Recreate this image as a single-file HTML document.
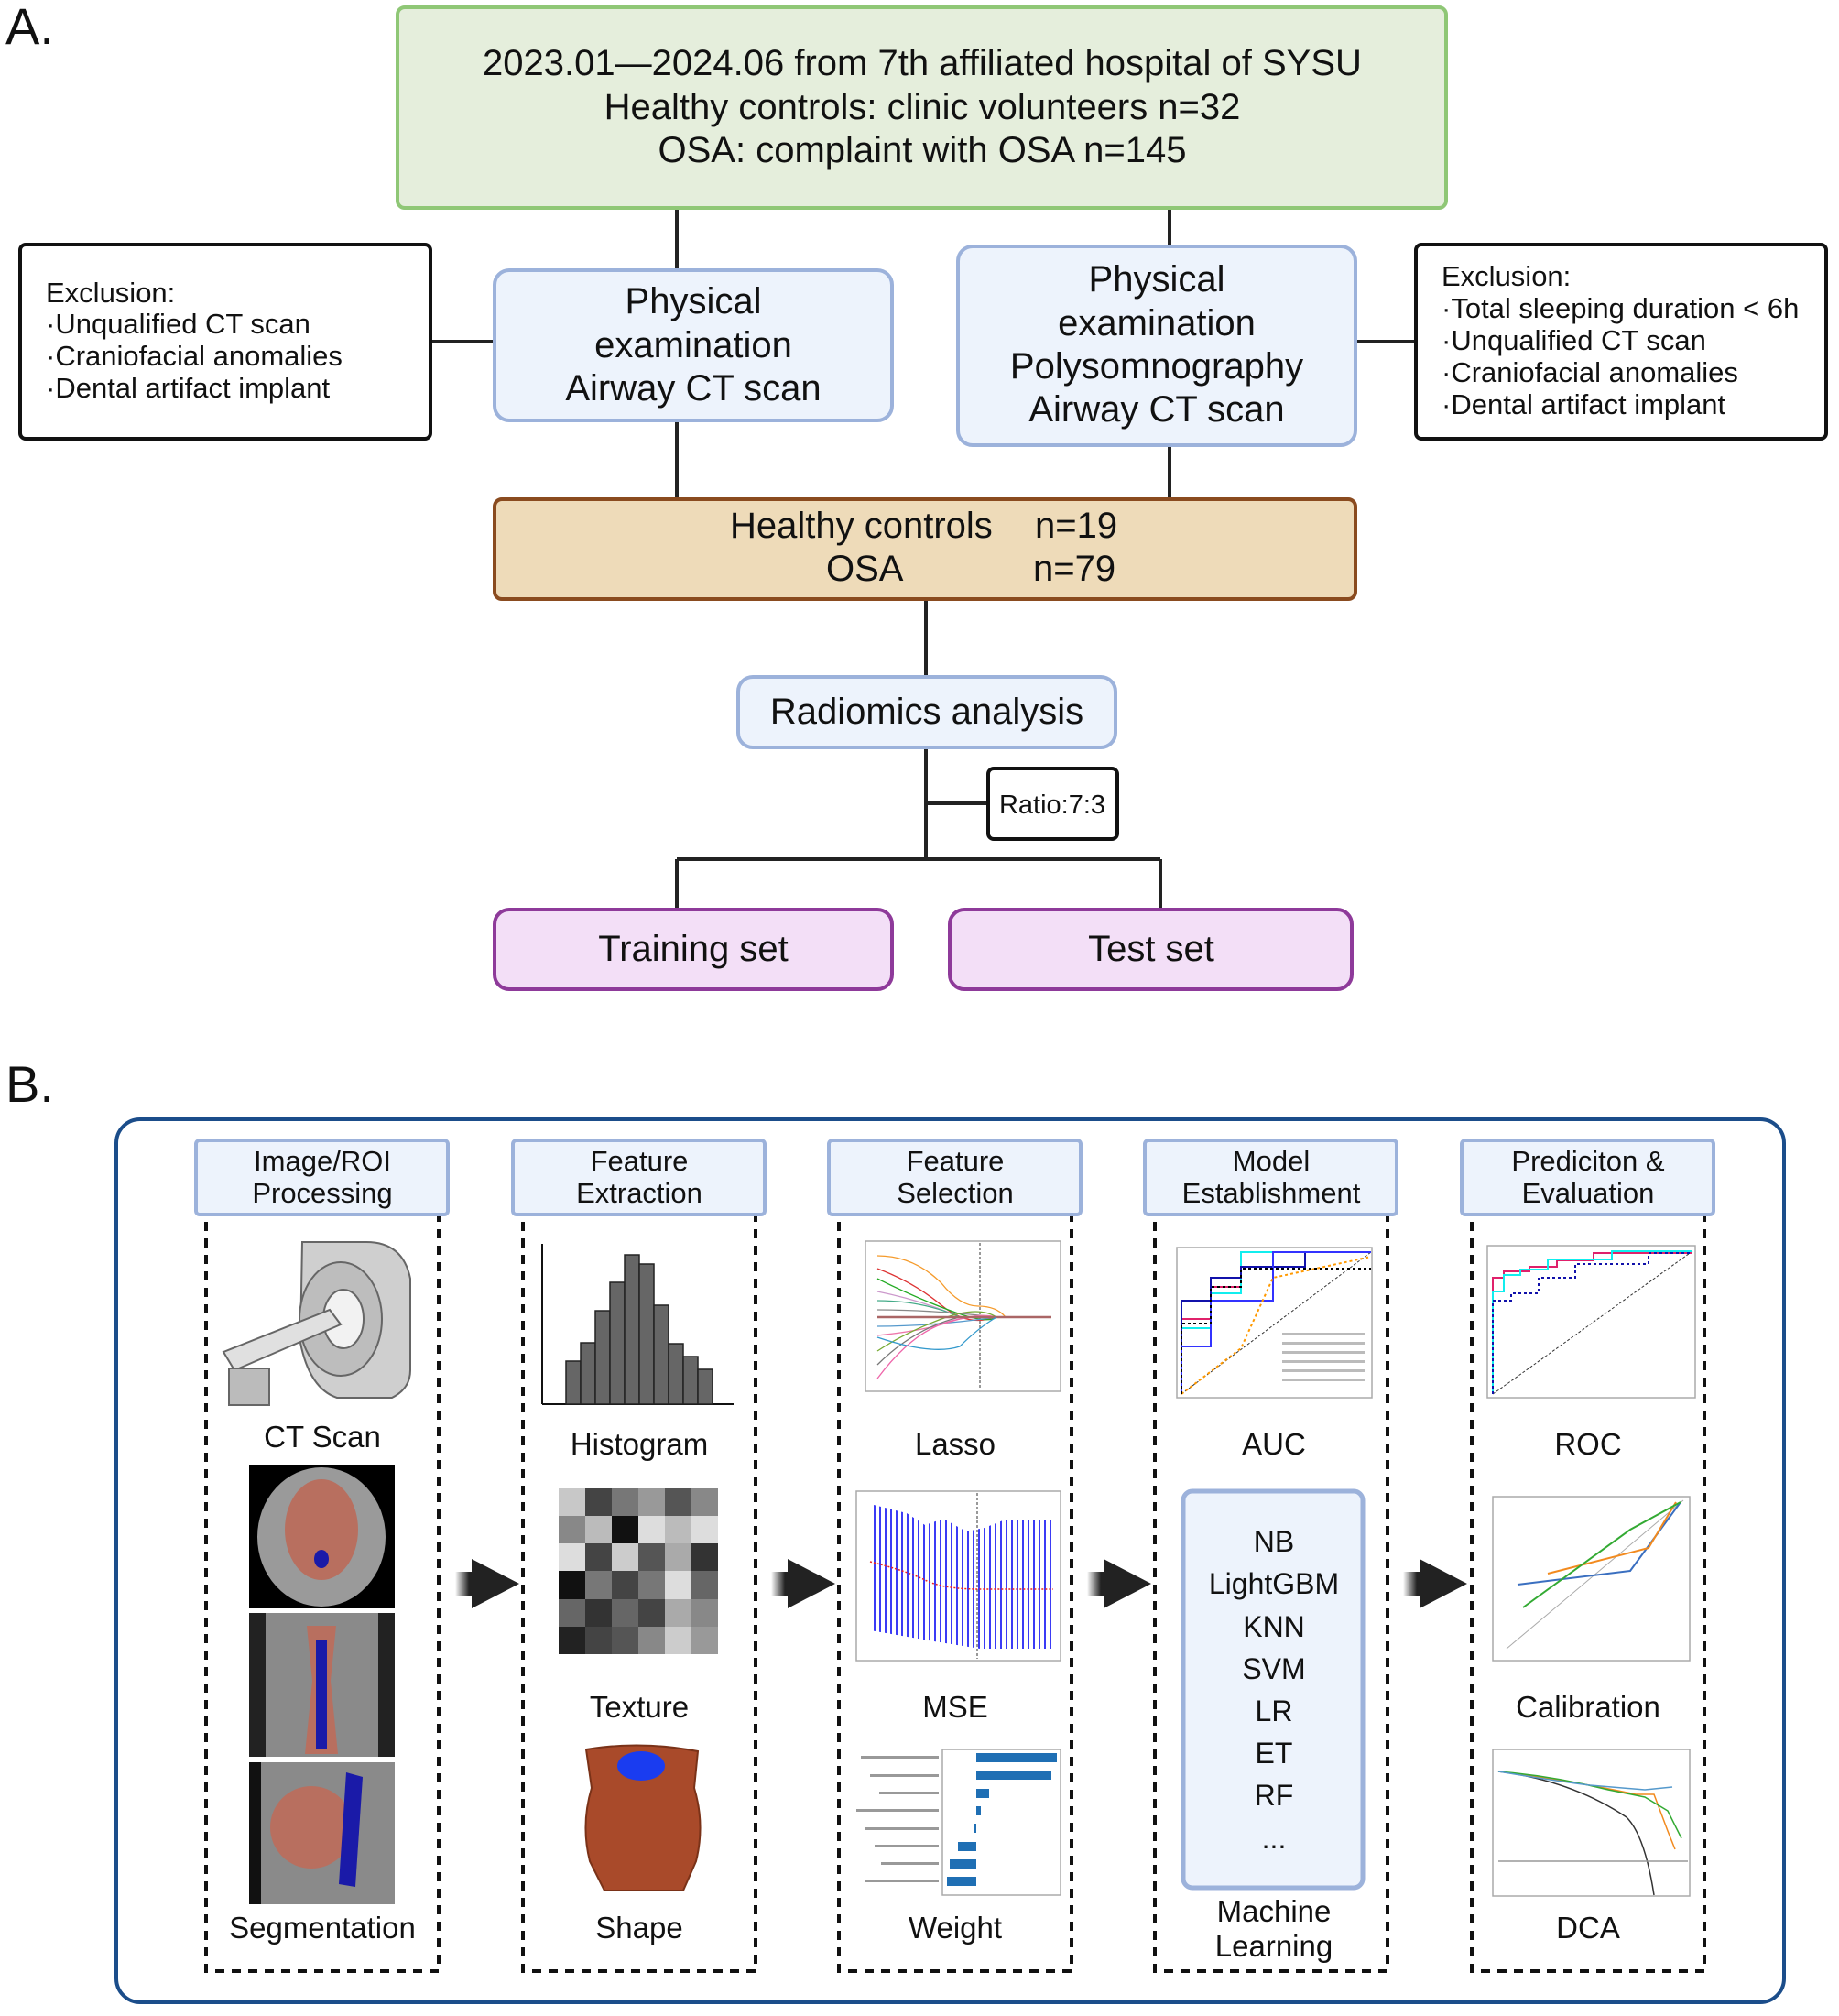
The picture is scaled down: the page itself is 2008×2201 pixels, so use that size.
<!DOCTYPE html>
<html><head><meta charset="utf-8"><style>
html,body{margin:0;padding:0;background:#fff}
svg{display:block}
text{font-family:"Liberation Sans",sans-serif;fill:#111}
</style></head><body>
<svg width="2008" height="2201" viewBox="0 0 2008 2201" xmlns="http://www.w3.org/2000/svg">
<defs>
<pattern id="stripes" width="6" height="10" patternUnits="userSpaceOnUse"><rect x="0" y="0" width="2" height="10" fill="#3b3bf5"/></pattern>
<linearGradient id="ag" x1="0" x2="1"><stop offset="0" stop-color="#222" stop-opacity="0"/><stop offset="0.5" stop-color="#222"/></linearGradient>
</defs>
<!-- Part A -->
<text x="6" y="48" font-size="56">A.</text>
<g stroke="#222" stroke-width="4" fill="none">
<line x1="739" y1="227" x2="739" y2="295"/><line x1="1277" y1="227" x2="1277" y2="269"/>
<line x1="739" y1="459" x2="739" y2="545"/><line x1="1277" y1="486" x2="1277" y2="545"/>
<line x1="470" y1="373" x2="540" y2="373"/><line x1="1480" y1="373" x2="1546" y2="373"/>
<line x1="1011" y1="654" x2="1011" y2="739"/><line x1="1011" y1="816" x2="1011" y2="938"/>
<line x1="1011" y1="877" x2="1079" y2="877"/>
<line x1="739" y1="938" x2="1267" y2="938"/>
<line x1="739" y1="938" x2="739" y2="993"/><line x1="1267" y1="938" x2="1267" y2="993"/>
</g>
<rect x="434" y="8" width="1145" height="219" rx="8" fill="#e5eedc" stroke="#8fc776" stroke-width="4"/>
<g font-size="40" text-anchor="middle">
<text x="1007" y="82">2023.01—2024.06 from 7th affiliated hospital of SYSU</text>
<text x="1007" y="130">Healthy controls: clinic volunteers  n=32</text>
<text x="1007" y="177">OSA: complaint with OSA  n=145</text>
</g>
<rect x="22" y="267" width="448" height="212" rx="6" fill="#fff" stroke="#111" stroke-width="4"/>
<g font-size="31"><text x="50" y="330">Exclusion:</text><text x="50" y="364">·Unqualified CT scan</text><text x="50" y="399">·Craniofacial anomalies</text><text x="50" y="434">·Dental artifact implant</text></g>
<rect x="1546" y="267" width="448" height="212" rx="6" fill="#fff" stroke="#111" stroke-width="4"/>
<g font-size="31"><text x="1574" y="312">Exclusion:</text><text x="1574" y="347">·Total sleeping duration &lt; 6h</text><text x="1574" y="382">·Unqualified CT scan</text><text x="1574" y="417">·Craniofacial anomalies</text><text x="1574" y="452">·Dental artifact implant</text></g>
<rect x="540" y="295" width="434" height="164" rx="16" fill="#edf3fc" stroke="#9cb2db" stroke-width="4"/>
<g font-size="40" text-anchor="middle"><text x="757" y="342">Physical</text><text x="757" y="390">examination</text><text x="757" y="437">Airway CT scan</text></g>
<rect x="1046" y="269" width="434" height="217" rx="16" fill="#edf3fc" stroke="#9cb2db" stroke-width="4"/>
<g font-size="40" text-anchor="middle"><text x="1263" y="318">Physical</text><text x="1263" y="366">examination</text><text x="1263" y="413">Polysomnography</text><text x="1263" y="460">Airway CT scan</text></g>
<rect x="540" y="545" width="940" height="109" rx="8" fill="#eedbb9" stroke="#8a4b1f" stroke-width="4"/>
<g font-size="40"><text x="797" y="587">Healthy controls</text><text x="1130" y="587">n=19</text><text x="902" y="634">OSA</text><text x="1128" y="634">n=79</text></g>
<rect x="806" y="739" width="412" height="77" rx="16" fill="#edf3fc" stroke="#9cb2db" stroke-width="4"/>
<text x="1012" y="790" font-size="40" text-anchor="middle">Radiomics analysis</text>
<rect x="1079" y="839" width="141" height="77" rx="6" fill="#fff" stroke="#111" stroke-width="4"/>
<text x="1149" y="888" font-size="29" text-anchor="middle">Ratio:7:3</text>
<rect x="540" y="993" width="434" height="87" rx="16" fill="#f3dff7" stroke="#8e3a9a" stroke-width="4"/>
<text x="757" y="1049" font-size="40" text-anchor="middle">Training set</text>
<rect x="1037" y="993" width="439" height="87" rx="16" fill="#f3dff7" stroke="#8e3a9a" stroke-width="4"/>
<text x="1257" y="1049" font-size="40" text-anchor="middle">Test set</text>

<!-- Part B -->
<text x="6" y="1203" font-size="56">B.</text>
<rect x="127" y="1222" width="1821" height="964" rx="26" fill="#fff" stroke="#1b4d8a" stroke-width="4"/>
<g fill="none" stroke="#111" stroke-width="4" stroke-dasharray="10,8">
<rect x="225" y="1326" width="254" height="826"/>
<rect x="571" y="1326" width="254" height="826"/>
<rect x="916" y="1326" width="254" height="826"/>
<rect x="1261" y="1326" width="254" height="826"/>
<rect x="1607" y="1326" width="254" height="826"/>
</g>
<g fill="#edf3fc" stroke="#9cb2db" stroke-width="4">
<rect x="214" y="1245" width="275" height="81" rx="4"/>
<rect x="560" y="1245" width="275" height="81" rx="4"/>
<rect x="905" y="1245" width="275" height="81" rx="4"/>
<rect x="1250" y="1245" width="275" height="81" rx="4"/>
<rect x="1596" y="1245" width="275" height="81" rx="4"/>
</g>
<g font-size="31" text-anchor="middle">
<text x="352" y="1278">Image/ROI</text><text x="352" y="1313">Processing</text>
<text x="698" y="1278">Feature</text><text x="698" y="1313">Extraction</text>
<text x="1043" y="1278">Feature</text><text x="1043" y="1313">Selection</text>
<text x="1388" y="1278">Model</text><text x="1388" y="1313">Establishment</text>
<text x="1734" y="1278">Prediciton &amp;</text><text x="1734" y="1313">Evaluation</text>
</g>
<!-- arrows -->
<g>
<rect x="497" y="1716" width="30" height="26" fill="url(#ag)"/><polygon points="515,1702 567,1729 515,1756" fill="#222"/>
<rect x="842" y="1716" width="30" height="26" fill="url(#ag)"/><polygon points="860,1702 912,1729 860,1756" fill="#222"/>
<rect x="1187" y="1716" width="30" height="26" fill="url(#ag)"/><polygon points="1205,1702 1257,1729 1205,1756" fill="#222"/>
<rect x="1532" y="1716" width="30" height="26" fill="url(#ag)"/><polygon points="1550,1702 1602,1729 1550,1756" fill="#222"/>
</g>
<!-- labels -->
<g font-size="33" text-anchor="middle">
<text x="352" y="1580">CT Scan</text>
<text x="352" y="2116">Segmentation</text>
<text x="698" y="1588">Histogram</text><text x="698" y="1875">Texture</text><text x="698" y="2116">Shape</text>
<text x="1043" y="1588">Lasso</text><text x="1043" y="1875">MSE</text><text x="1043" y="2116">Weight</text>
<text x="1391" y="1588">AUC</text><text x="1391" y="2098">Machine</text><text x="1391" y="2136">Learning</text>
<text x="1734" y="1588">ROC</text><text x="1734" y="1875">Calibration</text><text x="1734" y="2116">DCA</text>
</g>
<!-- CT scanner -->
<g stroke="#666" stroke-width="2">
<path d="M330,1356 h70 q40,0 48,40 v100 q0,20 -20,30 l-60,0 q-30,-10 -40,-60 z" fill="#cfcfcf"/>
<ellipse cx="372" cy="1440" rx="45" ry="62" fill="#bdbdbd"/>
<ellipse cx="375" cy="1440" rx="22" ry="32" fill="#f2f2f2"/>
<polygon points="244,1476 360,1430 372,1446 256,1496" fill="#e0e0e0"/>
<rect x="250" y="1494" width="44" height="40" fill="#bbb"/>
</g>
<!-- CT slices -->
<rect x="272" y="1599" width="159" height="157" fill="#000"/>
<ellipse cx="351" cy="1678" rx="70" ry="76" fill="#9a9a9a"/><ellipse cx="351" cy="1670" rx="40" ry="55" fill="#b86f5f"/><ellipse cx="351" cy="1702" rx="8" ry="10" fill="#1a1aa8"/>
<rect x="272" y="1761" width="159" height="157" fill="#222"/>
<rect x="290" y="1761" width="123" height="157" fill="#8a8a8a"/><path d="M335,1775 h32 l-6,60 l8,80 h-36 l8,-80 z" fill="#b86f5f"/><rect x="345" y="1790" width="12" height="120" fill="#1a1aa8"/>
<rect x="272" y="1924" width="159" height="155" fill="#111"/>
<rect x="285" y="1924" width="146" height="155" fill="#8a8a8a"/><ellipse cx="340" cy="1995" rx="45" ry="45" fill="#b86f5f"/><path d="M378,1935 l18,5 l-8,120 l-18,-3 z" fill="#1a1aa8"/>
<!-- histogram -->
<g stroke="#111" stroke-width="2"><line x1="592" y1="1358" x2="592" y2="1533"/><line x1="592" y1="1533" x2="801" y2="1533"/></g>
<g fill="#666" stroke="#222" stroke-width="1.5">
<rect x="618" y="1486" width="16" height="47"/><rect x="634" y="1466" width="16" height="67"/><rect x="650" y="1431" width="16" height="102"/>
<rect x="666" y="1400" width="16" height="133"/><rect x="682" y="1370" width="16" height="163"/><rect x="698" y="1380" width="16" height="153"/>
<rect x="714" y="1425" width="16" height="108"/><rect x="730" y="1467" width="16" height="66"/><rect x="746" y="1481" width="16" height="52"/><rect x="762" y="1495" width="16" height="38"/>
</g>
<!-- texture -->
<g>
<rect x="610" y="1625" width="29" height="30" fill="#c8c8c8"/><rect x="639" y="1625" width="29" height="30" fill="#444"/><rect x="668" y="1625" width="29" height="30" fill="#777"/><rect x="697" y="1625" width="29" height="30" fill="#999"/><rect x="726" y="1625" width="29" height="30" fill="#555"/><rect x="755" y="1625" width="29" height="30" fill="#888"/>
<rect x="610" y="1655" width="29" height="30" fill="#888"/><rect x="639" y="1655" width="29" height="30" fill="#bbb"/><rect x="668" y="1655" width="29" height="30" fill="#111"/><rect x="697" y="1655" width="29" height="30" fill="#ddd"/><rect x="726" y="1655" width="29" height="30" fill="#bbb"/><rect x="755" y="1655" width="29" height="30" fill="#ddd"/>
<rect x="610" y="1685" width="29" height="30" fill="#ddd"/><rect x="639" y="1685" width="29" height="30" fill="#444"/><rect x="668" y="1685" width="29" height="30" fill="#ccc"/><rect x="697" y="1685" width="29" height="30" fill="#555"/><rect x="726" y="1685" width="29" height="30" fill="#aaa"/><rect x="755" y="1685" width="29" height="30" fill="#333"/>
<rect x="610" y="1715" width="29" height="31" fill="#111"/><rect x="639" y="1715" width="29" height="31" fill="#777"/><rect x="668" y="1715" width="29" height="31" fill="#444"/><rect x="697" y="1715" width="29" height="31" fill="#777"/><rect x="726" y="1715" width="29" height="31" fill="#ddd"/><rect x="755" y="1715" width="29" height="31" fill="#666"/>
<rect x="610" y="1746" width="29" height="30" fill="#666"/><rect x="639" y="1746" width="29" height="30" fill="#333"/><rect x="668" y="1746" width="29" height="30" fill="#666"/><rect x="697" y="1746" width="29" height="30" fill="#444"/><rect x="726" y="1746" width="29" height="30" fill="#aaa"/><rect x="755" y="1746" width="29" height="30" fill="#888"/>
<rect x="610" y="1776" width="29" height="30" fill="#222"/><rect x="639" y="1776" width="29" height="30" fill="#444"/><rect x="668" y="1776" width="29" height="30" fill="#555"/><rect x="697" y="1776" width="29" height="30" fill="#888"/><rect x="726" y="1776" width="29" height="30" fill="#ccc"/><rect x="755" y="1776" width="29" height="30" fill="#999"/>
</g>
<!-- shape -->
<path d="M640,1910 q60,-10 122,2 l-4,40 q12,40 2,80 l-14,32 h-86 l-16,-32 q-10,-40 2,-80 z" fill="#a94a2a" stroke="#7a3218" stroke-width="2"/>
<ellipse cx="700" cy="1928" rx="26" ry="16" fill="#1a3cf0"/>
<!-- lasso -->
<rect x="945" y="1355" width="213" height="164" fill="#fff" stroke="#aaa" stroke-width="1.5"/>
<line x1="1070" y1="1357" x2="1070" y2="1517" stroke="#333" stroke-dasharray="3,2"/>
<g fill="none" stroke-width="1.3">
<path d="M958,1371 q40,0 70,30 q20,25 40,25 q20,0 30,12" stroke="#f59a2a"/>
<path d="M958,1385 q40,15 70,40 t60,12" stroke="#d33"/>
<path d="M958,1396 q40,20 80,35 t50,7" stroke="#2a2"/>
<path d="M958,1410 q50,10 90,28" stroke="#c9c"/>
<path d="M958,1420 q50,0 90,18" stroke="#4a8"/>
<path d="M958,1430 q60,0 130,8" stroke="#888"/>
<path d="M958,1448 q60,0 130,-10" stroke="#59c"/>
<path d="M958,1458 q50,-5 80,-15 t50,-5" stroke="#e7a"/>
<path d="M958,1475 q30,-20 70,-35 t60,-2" stroke="#7a3"/>
<path d="M958,1490 q40,-40 90,-52" stroke="#777"/>
<path d="M958,1505 q30,-40 60,-55 t70,-12" stroke="#e6a"/>
<path d="M958,1438 h190" stroke="#a66" stroke-width="2.5"/>
<path d="M958,1460 q60,20 90,10 q20,-20 40,-32" stroke="#39c"/>
</g>
<!-- MSE -->
<rect x="935" y="1628" width="223" height="185" fill="#fff" stroke="#aaa" stroke-width="1.5"/>
<path d="M950,1642 L990,1652 L1010,1665 L1030,1658 L1055,1672 L1075,1668 L1095,1660 L1150,1660 L1150,1800 L1070,1800 L1020,1792 L950,1780 Z" fill="url(#stripes)"/>
<line x1="1067" y1="1630" x2="1067" y2="1811" stroke="#333" stroke-dasharray="3,2"/>
<path d="M950,1705 q40,10 60,20 t60,10 h80" fill="none" stroke="#e22" stroke-dasharray="2,2" stroke-width="1.5"/>
<!-- weight -->
<rect x="1029" y="1910" width="129" height="159" fill="#fff" stroke="#aaa" stroke-width="1.5"/>
<g fill="#1f6fb4"><rect x="1066" y="1914" width="88" height="10"/><rect x="1066" y="1933" width="82" height="10"/><rect x="1066" y="1953" width="14" height="10"/><rect x="1066" y="1972" width="5" height="10"/><rect x="1063" y="1991" width="3" height="10"/><rect x="1046" y="2011" width="20" height="10"/><rect x="1037" y="2030" width="29" height="10"/><rect x="1034" y="2049" width="32" height="10"/></g>
<g fill="#999"><rect x="940" y="1917" width="85" height="3"/><rect x="950" y="1937" width="75" height="3"/><rect x="960" y="1956" width="65" height="3"/><rect x="935" y="1975" width="90" height="3"/><rect x="945" y="1995" width="80" height="3"/><rect x="955" y="2014" width="70" height="3"/><rect x="962" y="2033" width="63" height="3"/><rect x="945" y="2052" width="80" height="3"/></g>
<!-- AUC -->
<rect x="1285" y="1362" width="213" height="164" fill="#fff" stroke="#aaa" stroke-width="1.5"/>
<line x1="1290" y1="1522" x2="1497" y2="1367" stroke="#333" stroke-dasharray="3,2"/>
<g fill="none" stroke-width="2">
<path d="M1290,1522 V1440 H1322 V1405 H1355 V1367 H1497" stroke="#e0216b"/>
<path d="M1290,1522 V1450 H1322 V1412 H1355 V1367 H1497" stroke="#1ee"/>
<path d="M1290,1522 V1420 H1322 V1395 H1355 V1383 H1425 V1367 H1497" stroke="#11a"/>
<path d="M1290,1522 V1470 H1322 V1420 H1390 V1367 H1497" stroke="#33f"/>
<path d="M1290,1522 L1355,1472 L1390,1395 L1497,1372" stroke="#f90" stroke-dasharray="3,3"/>
<path d="M1290,1522 V1445 H1322 V1405 H1355 V1385 H1497" stroke="#000" stroke-dasharray="3,3"/>
</g>
<g fill="#bbb"><rect x="1400" y="1455" width="90" height="3"/><rect x="1400" y="1465" width="90" height="3"/><rect x="1400" y="1475" width="90" height="3"/><rect x="1400" y="1485" width="90" height="3"/><rect x="1400" y="1495" width="90" height="3"/><rect x="1400" y="1505" width="90" height="3"/></g>
<!-- ML box -->
<rect x="1292" y="1628" width="196" height="433" rx="10" fill="#edf3fc" stroke="#9cb2db" stroke-width="5"/>
<g font-size="32" text-anchor="middle"><text x="1391" y="1694">NB</text><text x="1391" y="1740">LightGBM</text><text x="1391" y="1787">KNN</text><text x="1391" y="1833">SVM</text><text x="1391" y="1879">LR</text><text x="1391" y="1925">ET</text><text x="1391" y="1971">RF</text><text x="1391" y="2018">...</text></g>
<!-- ROC -->
<rect x="1624" y="1360" width="227" height="166" fill="#fff" stroke="#aaa" stroke-width="1.5"/>
<line x1="1630" y1="1522" x2="1848" y2="1366" stroke="#333" stroke-dasharray="3,2"/>
<g fill="none" stroke-width="2">
<path d="M1630,1522 V1395 H1642 V1388 H1670 V1383 H1700 V1376 H1740 V1368 H1848" stroke="#e0216b"/>
<path d="M1630,1522 V1410 H1642 V1392 H1660 V1386 H1690 V1375 H1760 V1366 H1848" stroke="#1ee"/>
<path d="M1630,1522 V1420 H1650 V1412 H1680 V1395 H1720 V1380 H1800 V1368 H1848" stroke="#11a" stroke-dasharray="3,3"/>
</g>
<!-- calibration -->
<rect x="1630" y="1634" width="215" height="179" fill="#fff" stroke="#aaa" stroke-width="1.5"/>
<line x1="1645" y1="1800" x2="1838" y2="1638" stroke="#aaa"/>
<g fill="none" stroke-width="2">
<polyline points="1657,1730 1780,1715 1835,1640" stroke="#3a6fc0"/>
<polyline points="1690,1718 1800,1690 1830,1640" stroke="#f28a1e"/>
<polyline points="1663,1755 1780,1670 1835,1640" stroke="#3a3"/>
</g>
<!-- DCA -->
<rect x="1630" y="1910" width="215" height="160" fill="#fff" stroke="#aaa" stroke-width="1.5"/>
<g fill="none" stroke-width="1.5">
<path d="M1636,1934 q80,10 140,50 q20,20 30,85" stroke="#333"/>
<path d="M1636,1934 q80,10 150,25 l20,0 l15,40 l8,20" stroke="#f28a1e"/>
<path d="M1636,1934 q60,5 120,20 l40,8 l25,15 l15,30" stroke="#3a3"/>
<path d="M1636,1934 q60,10 100,15 l60,5 l30,-3" stroke="#59c"/>
<line x1="1636" y1="2032" x2="1843" y2="2032" stroke="#999"/>
</g>
</svg>
</body></html>
